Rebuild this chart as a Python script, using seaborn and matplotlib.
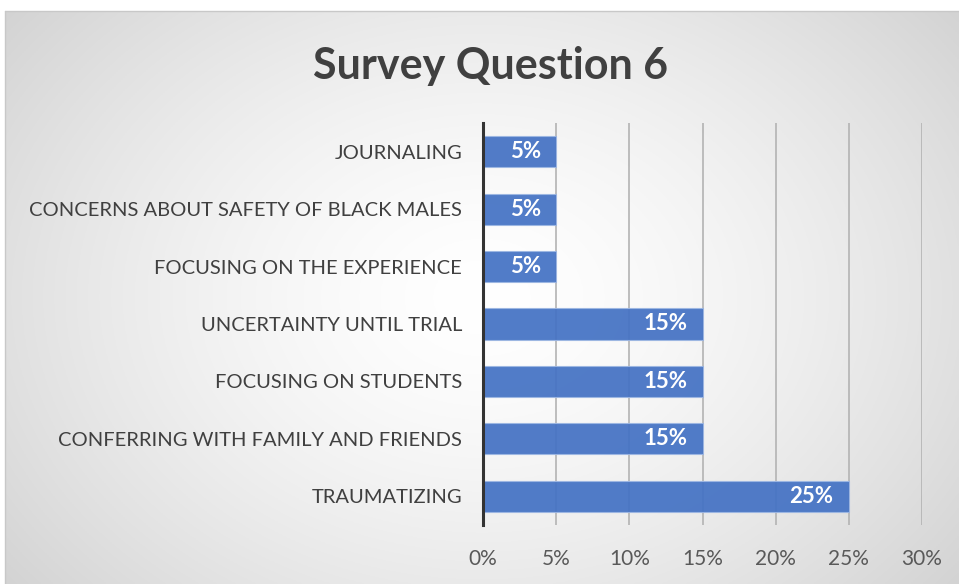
import numpy as np
import pandas as pd
import matplotlib
matplotlib.use("Agg")
import matplotlib.pyplot as plt
import seaborn as sns

categories = [
    "JOURNALING",
    "CONCERNS ABOUT SAFETY OF BLACK MALES",
    "FOCUSING ON THE EXPERIENCE",
    "UNCERTAINTY UNTIL TRIAL",
    "FOCUSING ON STUDENTS",
    "CONFERRING WITH FAMILY AND FRIENDS",
    "TRAUMATIZING",
]
values = [0.05, 0.05, 0.05, 0.15, 0.15, 0.15, 0.25]
value_labels = ["5%", "5%", "5%", "15%", "15%", "15%", "25%"]
x_ticks = [0, 0.05, 0.10, 0.15, 0.20, 0.25, 0.30]
x_tick_labels = ["0%", "5%", "10%", "15%", "20%", "25%", "30%"]
title = "Survey Question 6"

sns.set_theme(style="white")
plt.rcParams["font.family"] = ["Lato", "DejaVu Sans"]

W, H = 959, 584
fig = plt.figure(figsize=(W / 100, H / 100), dpi=100)
fig.patch.set_facecolor("white")

# background chart area with radial gradient
bg = fig.add_axes([5 / W, 0, 1 - 5 / W, 1 - 11 / H])
yy, xx = np.mgrid[0:1:300j, 0:1:500j]
r = np.sqrt(((xx - 0.5) / 0.75) ** 2 + ((yy - 0.5) / 0.95) ** 2)
val = 1.0 - 0.22 * np.clip(r, 0, 1) ** 1.5
img = np.dstack([val, val, val])
bg.imshow(img, aspect="auto", extent=[0, 1, 0, 1], origin="lower")
bg.set_axis_off()
fig.add_artist(plt.Line2D([5 / W, 1], [1 - 11 / H, 1 - 11 / H], color="#c8c8c8", lw=1))
fig.add_artist(plt.Line2D([5 / W, 5 / W], [0, 1 - 11 / H], color="#c8c8c8", lw=1))

ax = fig.add_axes([483 / W, 1 - 525 / H, (922 - 483) / W, (525 - 123) / H])
ax.patch.set_alpha(0)

df = pd.DataFrame({"category": categories, "value": values})
sns.barplot(data=df, x="value", y="category", orient="h", color="#4472C4",
            saturation=1, width=0.54, edgecolor="#9db7e3", linewidth=0.8,
            alpha=0.93, ax=ax, zorder=3)

ax.set_xlim(0, 0.30)
ax.set_ylim(6.5, -0.5)
ax.set_xticks(x_ticks)
ax.set_xticklabels(x_tick_labels, fontsize=15, color="#595959")
ax.tick_params(axis="x", length=0, pad=17)
ax.tick_params(axis="y", length=0, pad=15)
for lab in ax.get_yticklabels():
    lab.set_fontsize(14.5)
    lab.set_color("#404040")
ax.set_xlabel("")
ax.set_ylabel("")
for xv in x_ticks[1:]:
    ax.axvline(xv, color="#b3b3b3", lw=1.2, zorder=1)
for s in ["top", "right", "bottom"]:
    ax.spines[s].set_visible(False)
ax.spines["left"].set_color("#333333")
ax.spines["left"].set_linewidth(2.2)
ax.spines["left"].set_zorder(5)

for i, (v, lbl) in enumerate(zip(values, value_labels)):
    ax.annotate(lbl, xy=(v, i), xytext=(-11, 0), textcoords="offset points",
                ha="right", va="center", color="white", fontsize=16,
                fontweight="bold", zorder=6)

fig.text(490 / W, 1 - 66 / H, title, ha="center", va="center",
         fontsize=31, fontweight="bold", color="#404040")

fig.savefig("out.png", dpi=100)
